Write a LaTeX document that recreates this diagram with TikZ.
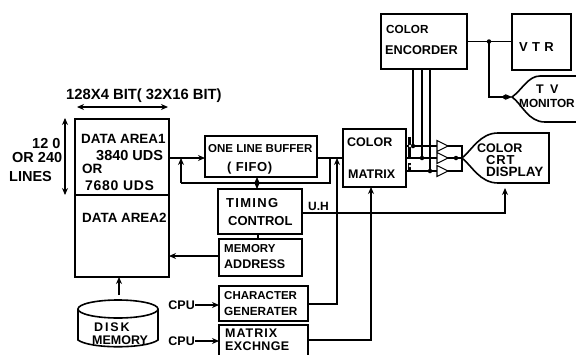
\documentclass[tikz,border=0pt]{standalone}
\usepackage{fontspec}
\setmainfont{Liberation Sans}
\usetikzlibrary{arrows.meta}
\newcommand{\fs}[1]{\fontsize{#1}{#1}\selectfont}
\newcommand{\lsp}[1]{\addfontfeatures{LetterSpace=#1}}
\tikzset{
 x=1pt,y=-1pt,
 blk/.style={draw,line width=1.6pt,inner sep=0pt,outer sep=0pt,anchor=north west},
 outl/.style={line width=1.6pt},
 lbl/.style={font=\bfseries\fs{12.5},inner sep=0pt,anchor=west},
 lbs/.style={font=\bfseries\fs{11.5},inner sep=0pt,anchor=west},
 wire/.style={line width=1.1pt},
 arr/.style={wire,-{Stealth[length=7pt,width=6pt]}},
 darr/.style={wire,{Stealth[length=7pt,width=6pt]}-{Stealth[length=7pt,width=6pt]}},
 dotn/.style={circle,fill,inner sep=0pt,outer sep=0pt,minimum size=4.5pt},
 amp/.style={line width=1.1pt,fill=white},
}
\begin{document}
\begin{tikzpicture}
\useasboundingbox (0,0) rectangle (576,354);
\clip (0,0) rectangle (576,354);
% boxes
\node[blk,minimum width=86pt,minimum height=55pt] (enc) at (381,14) {};
\node[blk,minimum width=59pt,minimum height=56pt] (vtr) at (512,14) {};
\node[blk,minimum width=63pt,minimum height=58pt] (mat) at (343,129) {};
\node[blk,minimum width=94pt,minimum height=76pt] (da1) at (75,119) {};
\node[blk,minimum width=94pt,minimum height=82pt] (da2) at (75,195) {};
\node[blk,minimum width=112pt,minimum height=41pt] (buf) at (205,136) {};
\node[blk,minimum width=84pt,minimum height=45pt] (tim) at (218,189) {};
\node[blk,minimum width=83pt,minimum height=37pt] (mem) at (219,239) {};
\node[blk,minimum width=89pt,minimum height=35pt] (chr) at (219,286) {};
\node[blk,minimum width=89pt,minimum height=37pt] (mex) at (219,325) {};
% displays
\draw[outl] (590,76) -- (540,76) .. controls (528,76) and (522,90) .. (512,97) .. controls (522,104) and (528,122) .. (545,122) -- (590,122);
\coordinate (tv) at (512,97);
\draw[outl] (462,158) .. controls (472,150) and (480,133) .. (498,133) -- (549,133) -- (549,183) -- (498,183) .. controls (480,183) and (472,166) .. (462,158) -- cycle;
\coordinate (crt) at (462,158);
% disk
\draw[outl] (78,309) -- (78,340) .. controls (90,349) and (146,349) .. (158,340) -- (158,309);
\draw[outl] (118,309) ellipse [x radius=40,y radius=9];
\coordinate (disk) at (119,295);
% anchor coordinates
\coordinate (j1) at (489,41.5);
\coordinate (by) at (0,158);
\coordinate (s1) at (413,146);
\coordinate (s2) at (422,158);
\coordinate (s3) at (430,171);
\coordinate (fb) at (330,158);
\coordinate (cg) at (337,304);
\coordinate (fbl) at (181,183);
\coordinate (ex) at (371,340);
\coordinate (uh) at (505,213);
% encoder connections
\draw[wire] (enc.east) -- (vtr.west |- enc.east);
\draw[arr] (j1) |- (tv);
\node[dotn] at (j1) {};
\node[dotn] at (505,97) {};
\draw[wire] (enc.south -| s1) -- (s1);
\draw[wire] (enc.south -| s2) -- (s2);
\draw[wire] (enc.south -| s3) -- (s3);
% outputs
\draw[wire] (mat.east |- s1) -- (462,146) -- (462,171) -- (mat.east |- s3);
\draw[wire] (mat.east |- s2) -- (crt);
\foreach \yy in {146,158,171}{
 \draw[amp] (437,\yy-5.5) -- (448,\yy) -- (437,\yy+5.5) -- cycle;
}
\node[dotn] at (s1) {};
\node[dotn] at (s2) {};
\node[dotn] at (s3) {};
\node[dotn] at (456,158) {};
\draw[line width=3pt] (409,137) -- (409,159);
\draw[line width=3pt] (409,163) -- (409,170);
\fill[white] (410,146) circle (1.4);
\fill[white] (410,166) circle (1.3);
% buffer and feedback
\draw[arr] (da1.east |- by) -- (buf.west |- by);
\draw[wire] (buf.east |- by) -- (mat.west |- by);
\draw[wire] (fb) |- (fbl);
\draw[arr] (fbl) -- (fbl |- by);
\draw[darr] (tim.north -| 257,0) -- (buf.south -| 257,0);
\draw[arr] (chr.east |- cg) -- (cg) -- (cg |- by);
\draw[wire] (tim.south -| 258,0) -- (mem.north -| 258,0);
\draw[arr] (tim.east |- uh) -- (uh) -- (505,188);
\draw[arr] (mex.east |- ex) -- (ex) -- (mat.south -| ex);
\draw[arr] (mem.west |- 0,256) -- (da2.east |- 0,256);
\draw[arr] (disk) -- (da2.south -| disk);
\node[lbl,anchor=east] (cpu1) at (195,305) {CPU};
\node[lbl,anchor=east] (cpu2) at (195,341) {CPU};
\draw[arr] (cpu1.east) -- (chr.west |- cpu1.east);
\draw[arr] (cpu2.east) -- (mex.west |- cpu2.east);
% dimension arrows
\coordinate (d1) at (77,107);
\coordinate (d2) at (168,107);
\coordinate (d3) at (65,118);
\coordinate (d4) at (65,195);
\draw[darr] (d1) -- (d2);
\draw[darr] (d3) -- (d4);
% texts
\node[lbl,font=\bfseries\fs{11.7}] at (386,29) {COLOR};
\node[lbl,font=\bfseries\fs{12.7}] at (385,50) {ENCORDER};
\node[lbl,font=\bfseries\fs{13}] at (519,47) {V\,\,T\,\,R};
\node[lbl] at (536,89) {T\,\,\,V};
\node[lbl,font=\bfseries\fs{11.8}] at (519,103) {MONITOR};
\node[lbl] at (347,142) {COLOR};
\node[lbl] at (348,174) {MATRIX};
\node[lbl] at (477,148) {COLOR};
\node[lbl,font=\bfseries\fs{13}\lsp{6}] at (486,160) {CRT};
\node[lbl,font=\bfseries\fs{13.5}] at (486,172) {DISPLAY};
\node[lbl,font=\bfseries\fs{14.8}] at (66,96) {128X4 BIT( 32X16 BIT)};
\node[lbl,font=\bfseries\fs{13.4}] at (81,139) {DATA AREA1};
\node[lbl,font=\bfseries\fs{14.5}] at (96,156) {3840 UDS};
\node[lbl,font=\bfseries\fs{13.5}] at (82,169) {OR};
\node[lbl,font=\bfseries\fs{14}\lsp{5}] at (85,186) {7680 UDS};
\node[lbl,font=\bfseries\fs{13.4}] at (82,218) {DATA AREA2};
\node[lbl,font=\bfseries\fs{14.5}] at (32,144) {12 0};
\node[lbl,font=\bfseries\fs{14.5}] at (12,158) {OR 240};
\node[lbl,font=\bfseries\fs{14.5}] at (9,177) {LINES};
\node[lbs] at (208,149) {ONE LINE BUFFER};
\node[lbl,font=\bfseries\fs{13}\lsp{5}] at (227,168) {( FIFO)};
\node[lbl,font=\bfseries\fs{13}\lsp{10}] at (226,203) {TIMING};
\node[lbl,font=\bfseries\fs{13}] at (228,221) {CONTROL};
\node[lbl,font=\bfseries\fs{12}] at (308,206) {U.H};
\node[lbs] at (224,249) {MEMORY};
\node[lbl] at (224,264) {ADDRESS};
\node[lbs] at (224,296) {CHARACTER};
\node[lbl,font=\bfseries\fs{11.8}] at (224,311) {GENERATER};
\node[lbl,font=\bfseries\fs{12.5}\lsp{8}] at (225,333) {MATRIX};
\node[lbl,font=\bfseries\fs{12.5}\lsp{3}] at (225,346) {EXCHNGE};
\node[lbl,font=\bfseries\fs{12.5}\lsp{15}] at (94,327) {DISK};
\node[lbl] at (92,340) {MEMORY};
\end{tikzpicture}
\end{document}
